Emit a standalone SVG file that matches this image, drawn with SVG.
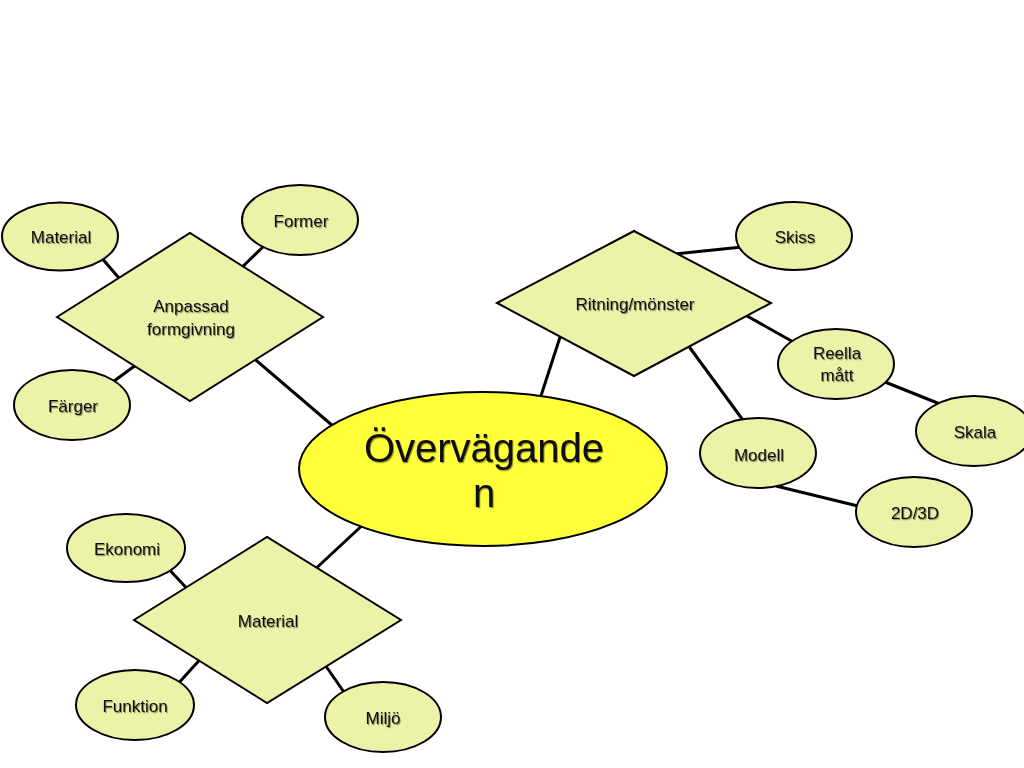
<svg xmlns="http://www.w3.org/2000/svg" width="1024" height="768" viewBox="0 0 1024 768">
<defs>
<filter id="sh" x="-10%" y="-20%" width="130%" height="150%">
<feDropShadow dx="1" dy="1.2" stdDeviation="0.6" flood-color="#000" flood-opacity="0.4"/>
</filter>
<style>
.c{stroke:#000;stroke-width:3;fill:none;stroke-linecap:butt}
.n{fill:#ECF3A9;stroke:#000;stroke-width:2}
.m{fill:#FFFF3A;stroke:#000;stroke-width:2}
.t{font-family:"Liberation Sans",Arial,Helvetica,sans-serif;font-size:17px;fill:#111;text-anchor:middle;filter:url(#sh)}
.big{font-size:40px}
</style>
</defs>
<rect width="1024" height="768" fill="#fff"/>
<g id="connectors">
<line class="c" x1="100" y1="256" x2="125" y2="285"/>
<line class="c" x1="266" y1="244" x2="236" y2="273"/>
<line class="c" x1="110" y1="384" x2="140" y2="362"/>
<line class="c" x1="250" y1="355" x2="340" y2="432"/>
<line class="c" x1="563" y1="328" x2="538" y2="405"/>
<line class="c" x1="665" y1="255" x2="742" y2="247"/>
<line class="c" x1="740" y1="312" x2="795" y2="343"/>
<line class="c" x1="682" y1="337" x2="748" y2="427"/>
<line class="c" x1="880" y1="380" x2="945" y2="406"/>
<line class="c" x1="776" y1="486" x2="862" y2="507"/>
<line class="c" x1="310" y1="574" x2="368" y2="520"/>
<line class="c" x1="166" y1="566" x2="192" y2="594"/>
<line class="c" x1="176" y1="686" x2="204" y2="655"/>
<line class="c" x1="321" y1="659" x2="348" y2="698"/>
</g>
<g id="n-center"><ellipse class="m" cx="483" cy="469" rx="184" ry="77"/><text class="t big" x="484" y="462">Övervägande</text><text class="t big" x="484" y="507">n</text></g>
<g id="n-anpassad"><polygon class="n" points="57,317 190,233 323,317 190,401"/><text class="t" x="191" y="312">Anpassad</text><text class="t" x="191" y="335">formgivning</text></g>
<g id="n-material1"><ellipse class="n" cx="60" cy="236.5" rx="58" ry="34"/><text class="t" x="61" y="243">Material</text></g>
<g id="n-former"><ellipse class="n" cx="300" cy="220" rx="58" ry="35"/><text class="t" x="301" y="227">Former</text></g>
<g id="n-farger"><ellipse class="n" cx="72" cy="405" rx="58" ry="35"/><text class="t" x="73" y="412">Färger</text></g>
<g id="n-ritning"><polygon class="n" points="497,303 634,231 771,303 634,376"/><text class="t" x="635" y="310">Ritning/mönster</text></g>
<g id="n-skiss"><ellipse class="n" cx="794" cy="236" rx="58" ry="34"/><text class="t" x="795" y="243">Skiss</text></g>
<g id="n-reella"><ellipse class="n" cx="836" cy="364" rx="58" ry="35"/><text class="t" x="837" y="359">Reella</text><text class="t" x="837" y="381">mått</text></g>
<g id="n-skala"><ellipse class="n" cx="974" cy="431" rx="58" ry="35"/><text class="t" x="975" y="438">Skala</text></g>
<g id="n-modell"><ellipse class="n" cx="758" cy="453" rx="58" ry="35"/><text class="t" x="759" y="461">Modell</text></g>
<g id="n-2d3d"><ellipse class="n" cx="914" cy="512" rx="58" ry="35"/><text class="t" x="915" y="519">2D/3D</text></g>
<g id="n-material2"><polygon class="n" points="134,620 267,537 401,620 267,703"/><text class="t" x="268" y="627">Material</text></g>
<g id="n-ekonomi"><ellipse class="n" cx="126" cy="548" rx="59" ry="34"/><text class="t" x="127" y="555">Ekonomi</text></g>
<g id="n-funktion"><ellipse class="n" cx="135" cy="705" rx="59" ry="35"/><text class="t" x="135" y="712">Funktion</text></g>
<g id="n-miljo"><ellipse class="n" cx="383" cy="717" rx="58" ry="35"/><text class="t" x="383" y="724">Miljö</text></g>
</svg>
